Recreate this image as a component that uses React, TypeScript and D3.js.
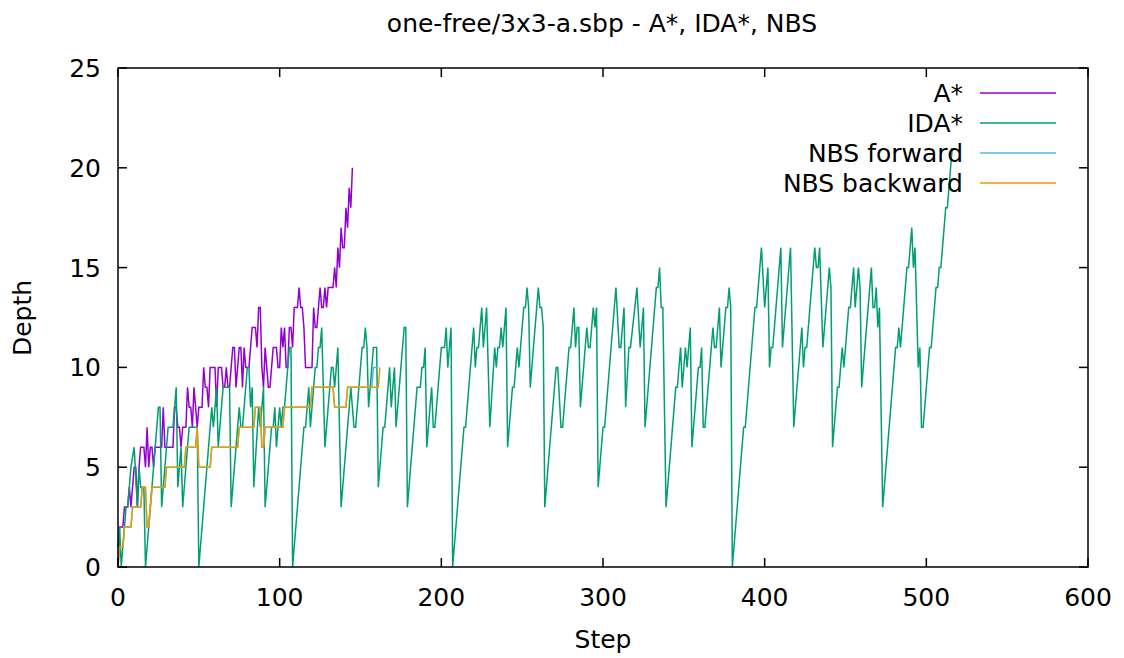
import React from "react";
import * as d3 from "d3";

const W = 1124;
const H = 658;
const plot = { left: 118, right: 1088, top: 68, bottom: 567 };

const xTicks = [0, 100, 200, 300, 400, 500, 600];
const yTicks = [0, 5, 10, 15, 20, 25];

// A*: depth per step (index = step)
const aStarDepth = [
  1, 2, 2, 2, 3, 3, 3, 4, 3, 4,
  5, 5, 3, 5, 6, 6, 6, 5, 7, 5,
  6, 6, 5, 6, 6, 6, 6, 6, 8, 6,
  6, 6, 6, 6, 6, 8, 8, 7, 7, 6,
  7, 7, 7, 9, 8, 8, 7, 9, 8, 7,
  8, 8, 8, 10, 9, 9, 8, 10, 10, 10,
  10, 8, 10, 10, 10, 9, 9, 10, 9, 9,
  10, 11, 11, 9, 10, 11, 11, 9, 11, 10,
  10, 10, 11, 12, 12, 12, 11, 13, 13, 10,
  9, 11, 10, 9, 9, 10, 11, 11, 11, 10,
  10, 12, 11, 12, 10, 10, 12, 12, 11, 13,
  13, 13, 14, 13, 13, 12, 10, 10, 10, 10,
  10, 13, 12, 12, 13, 14, 13, 13, 14, 13,
  14, 14, 14, 14, 15, 14, 16, 15, 17, 16,
  16, 18, 17, 19, 18, 20,
];

// IDA*: [step, depth] turning points
const idaStar: [number, number][] = [
  [0, 0], [1, 2], [2, 0], [5, 3], [6, 3], [7, 4], [8, 5], [10, 6], [12, 3], [13, 5],
  [14, 4], [16, 4], [17, 0], [25, 8], [26, 8], [27, 3], [31, 7], [34, 7], [36, 9], [37, 4],
  [39, 6], [40, 3], [44, 7], [49, 7], [50, 0], [57, 7], [58, 8], [59, 7], [60, 8], [61, 9],
  [62, 6], [65, 9], [69, 9], [70, 3], [75, 8], [76, 7], [77, 7], [80, 10], [81, 10], [82, 8],
  [83, 9], [84, 4], [87, 8], [88, 7], [90, 9], [91, 3], [95, 7], [96, 7], [97, 8], [98, 6],
  [100, 8], [101, 7], [102, 8], [103, 8], [106, 11], [107, 11], [108, 0], [115, 7], [116, 7], [118, 9],
  [119, 7], [122, 10], [123, 10], [124, 11], [125, 11], [126, 12], [128, 6], [132, 10], [133, 10], [134, 9],
  [136, 11], [138, 3], [144, 9], [146, 7], [147, 7], [151, 11], [152, 11], [153, 12], [154, 11], [155, 8],
  [157, 10], [158, 11], [160, 11], [161, 4], [164, 7], [165, 7], [168, 10], [169, 8], [171, 10], [172, 7],
  [177, 12], [178, 12], [179, 3], [185, 9], [187, 9], [188, 10], [189, 10], [190, 11], [191, 6], [194, 9],
  [195, 7], [196, 7], [200, 11], [202, 11], [203, 12], [204, 10], [206, 12], [207, 0], [214, 7], [215, 7],
  [220, 12], [221, 10], [222, 11], [223, 11], [225, 13], [226, 11], [228, 13], [230, 7], [233, 11], [234, 10],
  [235, 11], [236, 11], [237, 12], [238, 11], [240, 13], [241, 6], [244, 9], [245, 9], [247, 11], [248, 10],
  [251, 13], [252, 13], [253, 14], [254, 13], [255, 9], [260, 14], [261, 13], [262, 13], [263, 12], [264, 3],
  [271, 10], [272, 10], [274, 7], [275, 7], [279, 11], [280, 11], [282, 13], [283, 11], [284, 12], [285, 12],
  [286, 8], [290, 12], [291, 11], [292, 11], [294, 13], [295, 12], [296, 13], [297, 4], [300, 7], [301, 7],
  [308, 14], [310, 11], [311, 11], [313, 13], [314, 8], [316, 11], [317, 11], [321, 14], [323, 11], [325, 13],
  [326, 7], [333, 14], [334, 14], [335, 15], [336, 13], [337, 13], [339, 3], [345, 9], [346, 9], [348, 11],
  [349, 9], [351, 11], [352, 10], [354, 12], [355, 6], [359, 10], [360, 10], [361, 11], [362, 7], [363, 7],
  [368, 12], [369, 11], [370, 11], [372, 13], [373, 10], [376, 13], [377, 13], [378, 14], [379, 13], [380, 0],
  [387, 7], [388, 7], [394, 13], [395, 13], [398, 16], [400, 13], [402, 15], [403, 10], [404, 11], [405, 11],
  [410, 16], [411, 11], [416, 16], [418, 7], [423, 12], [424, 10], [425, 11], [426, 11], [431, 16], [432, 15],
  [433, 15], [434, 16], [436, 11], [440, 15], [441, 14], [442, 6], [445, 9], [446, 9], [448, 11], [449, 10],
  [452, 13], [453, 13], [455, 15], [456, 13], [458, 15], [459, 14], [460, 9], [466, 15], [467, 13], [468, 13],
  [469, 14], [470, 12], [471, 13], [473, 3], [481, 11], [482, 11], [483, 12], [484, 11], [488, 15], [489, 15],
  [491, 17], [492, 15], [493, 16], [495, 10], [496, 11], [497, 7], [498, 7], [502, 11], [503, 11], [506, 14],
  [507, 14], [508, 15], [509, 15], [512, 18], [513, 18], [516, 21],
];

// NBS: [step, depth] corners of the step curves
const nbsForward: [number, number][] = [
  [0, 0], [1, 1], [3, 1], [4, 2], [8, 2], [9, 3], [14, 3], [15, 4], [17, 4], [18, 2],
  [19, 2], [20, 3], [21, 4], [29, 4], [30, 5], [41, 5], [42, 6], [48, 6], [49, 7], [50, 5],
  [57, 5], [58, 6], [74, 6], [75, 7], [84, 7], [85, 8], [88, 8], [89, 6], [90, 6], [91, 7],
  [102, 7], [103, 8], [119, 8], [120, 9], [133, 9], [134, 8], [141, 8], [142, 9], [157, 9], [158, 10],
  [161, 10],
];

const nbsBackward: [number, number][] = [
  [0, 0], [1, 1], [3, 1], [4, 2], [8, 2], [9, 3], [14, 3], [15, 4], [17, 4], [18, 2],
  [19, 2], [20, 3], [21, 4], [29, 4], [30, 5], [41, 5], [42, 6], [48, 6], [49, 7], [50, 5],
  [57, 5], [58, 6], [74, 6], [75, 7], [84, 7], [85, 8], [88, 8], [89, 6], [90, 6], [91, 7],
  [102, 7], [103, 8], [119, 8], [120, 9], [133, 9], [134, 8], [141, 8], [142, 9], [161, 9], [162, 10],
];

const series = [
  { name: "A*", color: "#9400d3", points: aStarDepth.map((d, i) => [i, d] as [number, number]) },
  { name: "IDA*", color: "#009e73", points: idaStar },
  { name: "NBS forward", color: "#56b4e9", points: nbsForward },
  { name: "NBS backward", color: "#e69f00", points: nbsBackward },
];

const font = "'DejaVu Sans', sans-serif";

export default function App() {
  const x = d3.scaleLinear().domain([0, 600]).range([plot.left, plot.right]);
  const y = d3.scaleLinear().domain([0, 25]).range([plot.bottom, plot.top]);
  const line = d3
    .line<[number, number]>()
    .x((d) => x(d[0]))
    .y((d) => y(d[1]));
  const tick = 9;

  return (
    <svg
      width={W}
      height={H}
      viewBox={`0 0 ${W} ${H}`}
      style={{ position: "absolute", left: 0, top: 0, background: "#fff" }}
      fontFamily={font}
    >
      <rect x={0} y={0} width={W} height={H} fill="#fff" />
      <text x={602} y={32} fontSize={25} textAnchor="middle" fill="#000">
        one-free/3x3-a.sbp - A*, IDA*, NBS
      </text>

      {series.map((s) => (
        <path key={s.name} d={line(s.points) || ""} fill="none" stroke={s.color} strokeWidth={1.5} strokeLinejoin="miter" />
      ))}

      {/* ticks on all four sides */}
      {xTicks.map((t) => (
        <g key={"x" + t}>
          <line x1={x(t)} x2={x(t)} y1={plot.bottom} y2={plot.bottom - tick} stroke="#000" strokeWidth={1.5} />
          <line x1={x(t)} x2={x(t)} y1={plot.top} y2={plot.top + tick} stroke="#000" strokeWidth={1.5} />
          <text x={x(t)} y={606} fontSize={25} textAnchor="middle" fill="#000">
            {t}
          </text>
        </g>
      ))}
      {yTicks.map((t) => (
        <g key={"y" + t}>
          <line x1={plot.left} x2={plot.left + tick} y1={y(t)} y2={y(t)} stroke="#000" strokeWidth={1.5} />
          <line x1={plot.right} x2={plot.right - tick} y1={y(t)} y2={y(t)} stroke="#000" strokeWidth={1.5} />
          <text x={101} y={y(t) + 9} fontSize={25} textAnchor="end" fill="#000">
            {t}
          </text>
        </g>
      ))}
      <rect
        x={plot.left}
        y={plot.top}
        width={plot.right - plot.left}
        height={plot.bottom - plot.top}
        fill="none"
        stroke="#000"
        strokeWidth={1.5}
      />

      <text x={603} y={648} fontSize={25} textAnchor="middle" fill="#000">
        Step
      </text>
      <text transform="translate(31,318) rotate(-90)" fontSize={25} textAnchor="middle" fill="#000">
        Depth
      </text>

      {series.map((s, i) => {
        const ly = 93 + i * 30;
        return (
          <g key={"leg" + s.name}>
            <text x={963} y={ly + 9} fontSize={25} textAnchor="end" fill="#000">
              {s.name}
            </text>
            <line x1={980} x2={1056} y1={ly} y2={ly} stroke={s.color} strokeWidth={1.5} />
          </g>
        );
      })}
    </svg>
  );
}
